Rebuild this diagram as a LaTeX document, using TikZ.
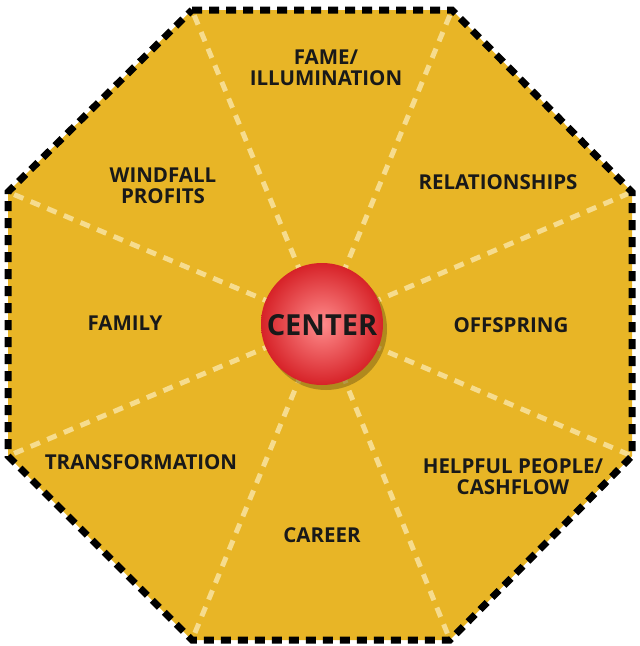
\documentclass[tikz,border=0pt]{standalone}
\usepackage{fontspec}
\setmainfont{Open Sans}
\definecolor{fy}{HTML}{E8B526}
\definecolor{sp}{HTML}{F6DC8E}
\definecolor{rd}{HTML}{E2242A}
\tikzset{lbl/.style={font=\bfseries\fontsize{20.5}{21}\selectfont, text=black!90, align=center},
 spoke/.style={draw=sp, line width=5pt, dash pattern=on 10pt off 8pt}}
\begin{document}
\begin{tikzpicture}[x=1pt,y=-1pt]
\useasboundingbox (0,0) rectangle (640,646);
\coordinate (v1) at (192,10); \coordinate (v2) at (452,10);
\coordinate (v3) at (632,192); \coordinate (v4) at (632,456);
\coordinate (v5) at (450,640); \coordinate (v6) at (192,640);
\coordinate (v7) at (8,456); \coordinate (v8) at (8,192);
\coordinate (c) at (322,324);
\fill[fy] (v1)--(v2)--(v3)--(v4)--(v5)--(v6)--(v7)--(v8)--cycle;
\foreach \v in {v1,v2,v3,v4,v5,v6,v7,v8} \draw[spoke] (c) -- (\v);
\draw[black, line width=7pt, dash pattern=on 10pt off 7pt] (v1)--(v2)--(v3)--(v4)--(v5)--(v6)--(v7)--(v8)--cycle;
\fill[black!40!fy, opacity=0.6] (326,329) circle (61);
\node[circle, minimum size=122pt, inner sep=0pt, inner color=red!45!white, outer color=rd!95!black] (ctr) at (c) {};
\node[font=\bfseries\fontsize{29}{29}\selectfont, text=black!90] at (322,325) {CENTER};
\node[lbl] (fame) at (326,68) {FAME/\\ILLUMINATION};
\node[lbl] (rel) at (498,182) {RELATIONSHIPS};
\node[lbl] (wind) at (163,186) {WINDFALL\\PROFITS};
\node[lbl] (fam) at (125,323) {FAMILY};
\node[lbl] (off) at (511,325) {OFFSPRING};
\node[lbl] (tr) at (141,462) {TRANSFORMATION};
\node[lbl] (help) at (513,477) {HELPFUL PEOPLE/\\CASHFLOW};
\node[lbl] (car) at (322,535) {CAREER};
\end{tikzpicture}
\end{document}
